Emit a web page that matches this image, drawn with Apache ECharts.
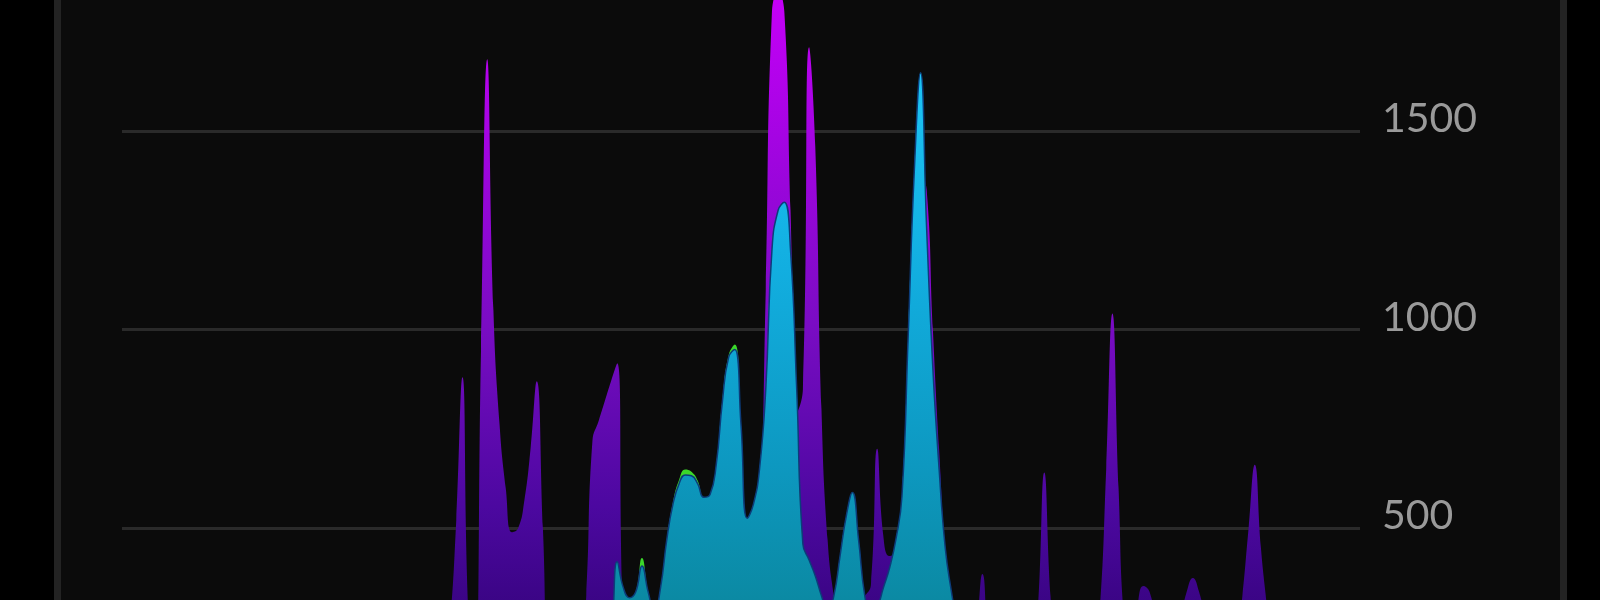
<!DOCTYPE html>
<html>
<head>
<meta charset="utf-8">
<script src="https://cdn.jsdelivr.net/npm/echarts@6/dist/echarts.min.js"></script>
<style>
    html, body { margin: 0; padding: 0; background: #000; overflow: hidden; }
    #stage { position: relative; width: 1600px; height: 600px; overflow: hidden; }
    #panel {
        position: absolute; left: 54px; top: -100px; width: 1513px; height: 900px;
        box-sizing: border-box; background: #0b0b0b;
        border-left: 7px solid #232323; border-right: 7px solid #232323;
    }
    #chart { position: absolute; left: 0; top: -200px; width: 1600px; height: 1000px; }
</style>
</head>
<body>
<div id="stage">
    <div id="panel"></div>
    <div id="chart"></div>
</div>
<script>
    // values, one sample per ~6px
    const purple = [
        0, 0, 0, 0, 0, 0, 0, 0, 0, 0,
        0, 0, 0, 0, 0, 0, 0, 0, 0, 0,
        0, 0, 0, 0, 0, 0, 0, 0, 0, 0,
        0, 0, 0, 0, 0, 0, 0, 0, 0, 0,
        0, 0, 0, 0, 10, 20, 30, 40, 60, 80,
        100, 110, 120, 260, 520, 880, 280, 150, 950, 1680,
        1050, 760, 600, 490, 500, 570, 700, 870, 500, 100,
        80, 60, 80, 120, 150, 330, 720, 770, 820, 870,
        915, 250, 150, 160, 180, 190, 200, 240, 280, 300,
        320, 330, 330, 320, 320, 330, 350, 380, 380, 370,
        360, 350, 380, 500, 1100, 1800, 1850, 1800, 1300, 790,
        850, 1710, 1460, 800, 470, 330, 250, 250, 300, 320,
        330, 360, 700, 480, 430, 440, 550, 850, 1200, 1400,
        1350, 1000, 700, 450, 330, 220, 150, 180, 250, 385,
        200, 120, 100, 90, 80, 90, 110, 150, 300, 640,
        330, 150, 100, 90, 80, 90, 120, 180, 300, 650,
        1040, 600, 250, 200, 300, 355, 340, 260, 180, 150,
        200, 270, 340, 375, 340, 270, 180, 140, 120, 150,
        200, 330, 500, 660, 450, 300, 150, 100, 80, 60,
        40, 30, 20, 10, 0, 0, 0, 0, 0, 0,
        0
    ];
    const green = [
        0, 0, 0, 0, 0, 0, 0, 0, 0, 0,
        0, 0, 0, 0, 0, 0, 0, 0, 0, 0,
        0, 0, 0, 0, 0, 0, 0, 0, 0, 0,
        0, 0, 0, 0, 0, 0, 0, 0, 0, 0,
        0, 0, 0, 0, 0, 0, 0, 0, 0, 0,
        0, 0, 0, 0, 0, 0, 0, 0, 0, 0,
        0, 10, 20, 20, 40, 50, 40, 60, 80, 70,
        90, 110, 100, 130, 150, 140, 170, 160, 190, 230,
        416, 350, 325, 340, 425, 340, 290, 350, 470, 565,
        622, 648, 642, 620, 578, 585, 660, 825, 935, 962,
        760, 525, 560, 650, 850, 1200, 1300, 1320, 1200, 850,
        460, 420, 380, 330, 290, 330, 430, 530, 590, 470,
        330, 280, 300, 350, 400, 470, 580, 980, 1400, 1646,
        1250, 900, 650, 450, 340, 250, 180, 140, 120, 100,
        90, 80, 60, 70, 50, 40, 50, 30, 20, 20,
        10, 10, 0, 0, 0, 0, 0, 0, 0, 0,
        0, 0, 0, 0, 0, 0, 0, 0, 0, 0,
        0, 0, 0, 0, 0, 0, 0, 0, 0, 0,
        0, 0, 0, 0, 0, 0, 0, 0, 0, 0,
        0, 0, 0, 0, 0, 0, 0, 0, 0, 0,
        0
    ];
    const cyan = [
        0, 0, 0, 0, 0, 0, 0, 0, 0, 0,
        0, 0, 0, 0, 0, 0, 0, 0, 0, 0,
        0, 0, 0, 0, 0, 0, 0, 0, 0, 0,
        0, 0, 0, 0, 0, 0, 0, 0, 0, 0,
        0, 0, 0, 0, 0, 0, 0, 0, 0, 0,
        0, 0, 0, 0, 0, 0, 0, 0, 0, 0,
        0, 10, 20, 20, 40, 50, 40, 60, 80, 70,
        90, 110, 100, 130, 150, 140, 170, 160, 190, 230,
        416, 350, 325, 340, 405, 340, 290, 350, 470, 560,
        612, 634, 632, 612, 578, 585, 660, 820, 930, 950,
        760, 525, 560, 650, 850, 1200, 1300, 1320, 1200, 850,
        460, 420, 380, 330, 290, 330, 430, 530, 590, 470,
        330, 280, 300, 350, 400, 470, 580, 980, 1400, 1646,
        1250, 900, 650, 450, 340, 250, 180, 140, 120, 100,
        90, 80, 60, 70, 50, 40, 50, 30, 20, 20,
        10, 10, 0, 0, 0, 0, 0, 0, 0, 0,
        0, 0, 0, 0, 0, 0, 0, 0, 0, 0,
        0, 0, 0, 0, 0, 0, 0, 0, 0, 0,
        0, 0, 0, 0, 0, 0, 0, 0, 0, 0,
        0, 0, 0, 0, 0, 0, 0, 0, 0, 0,
        0
    ];
    const categories = purple.map((_, i) => i);
    const yTicks = { min: 0, max: 2000, interval: 500 };

    const chart = echarts.init(document.getElementById('chart'), null, { renderer: 'canvas' });

    function grad(stops) {
        return {
            type: 'linear', x: 0, y: 0, x2: 0, y2: 1,
            colorStops: stops.map(s => ({ offset: s[0], color: s[1] }))
        };
    }

    const option = {
        backgroundColor: 'transparent',
        animation: false,
        grid: { left: 122, right: 240, top: 132, bottom: 73 },
        xAxis: {
            type: 'category',
            data: categories,
            boundaryGap: false,
            show: false
        },
        yAxis: {
            type: 'value',
            position: 'right',
            min: yTicks.min,
            max: yTicks.max,
            interval: yTicks.interval,
            axisLine: { show: false },
            axisTick: { show: false },
            splitLine: { lineStyle: { color: '#2a2a2a', width: 3 } },
            axisLabel: {
                color: '#9a9a9a',
                fontFamily: 'Lato',
                fontSize: 41,
                margin: 22,
                verticalAlign: 'bottom',
                lineHeight: 24,
                formatter: v => String(v)
            }
        },
        series: [
            {
                name: 'purple',
                type: 'line',
                data: purple,
                smooth: 0.5,
                showSymbol: false,
                lineStyle: { width: 0 },
                areaStyle: {
                    opacity: 1,
                    color: grad([[0, '#c600f8'], [0.2, '#a404e2'], [0.45, '#7a0cc4'], [0.7, '#4c08a0'], [1, '#240062']])
                }
            },
            {
                name: 'green',
                type: 'line',
                data: green,
                smooth: 0.5,
                showSymbol: false,
                lineStyle: { width: 0 },
                areaStyle: { opacity: 1, color: '#3cd82a' }
            },
            {
                name: 'cyan',
                type: 'line',
                data: cyan,
                smooth: 0.5,
                showSymbol: false,
                lineStyle: { width: 1.5, color: '#0c3c7a' },
                areaStyle: {
                    opacity: 1,
                    color: grad([[0, '#1cc4f6'], [0.3, '#12aee0'], [0.6, '#0d98c0'], [0.8, '#0b8aa4'], [1, '#086a78']])
                }
            }
        ]
    };
    chart.setOption(option);
    window.addEventListener('resize', () => {
        chart.resize()
    })
</script>
</body>
</html>
